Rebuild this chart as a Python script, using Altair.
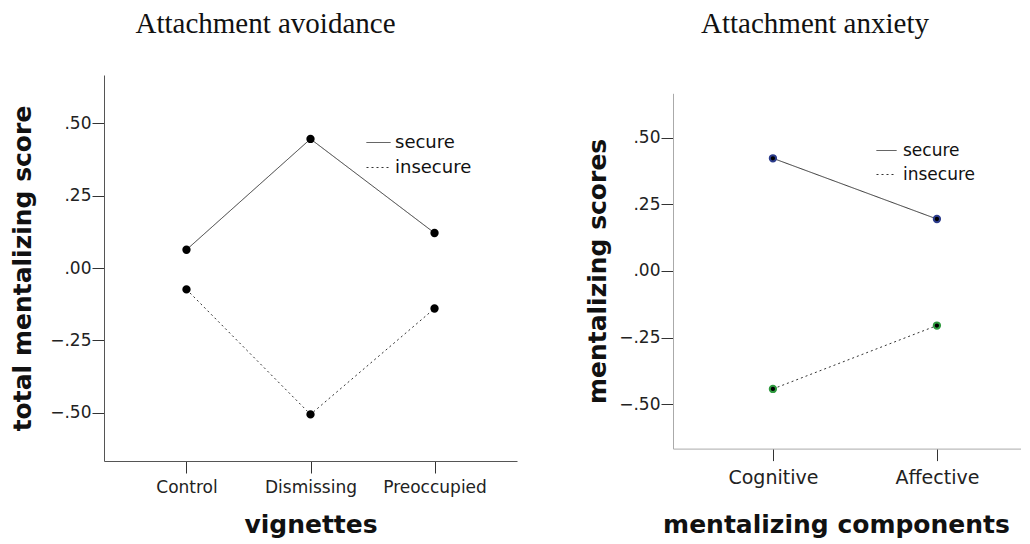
import altair as alt
import pandas as pd

# ---- data ----
groups = ["secure", "insecure"]

vignettes = ["Control", "Dismissing", "Preoccupied"]
avoid_secure = [0.063, 0.446, 0.121]
avoid_insecure = [-0.074, -0.506, -0.140]

components = ["Cognitive", "Affective"]
anx_secure = [0.423, 0.195]
anx_insecure = [-0.443, -0.205]

y_ticks = [-0.5, -0.25, 0.0, 0.25, 0.5]

left_df = pd.DataFrame({
    "cat": vignettes * 2,
    "value": avoid_secure + avoid_insecure,
    "group": [groups[0]] * 3 + [groups[1]] * 3,
})
right_df = pd.DataFrame({
    "cat": components * 2,
    "value": anx_secure + anx_insecure,
    "group": [groups[0]] * 2 + [groups[1]] * 2,
})

SANS = "DejaVu Sans"
SERIF = "Liberation Serif"
label_expr = "replace(format(datum.value, '.2f'), '0.', '.')"
H = 386


def panel(df, cats, title, dx, xtitle, ytitle, width, pad, align, yrange, xoffset,
          domain_color, xlab_size, ylab_size, ytitle_pad, xtitle_pad, xlab_pad, xtitle_x,
          legend_x, legend_y, sym_size, leg_font, leg_off, leg_row, pt_stroke):
    xaxis_kw = dict(title=xtitle, labelAngle=0, labelFont=SANS,
                    labelFontSize=xlab_size, labelColor="#222",
                    tickSize=12, tickColor="#333", labelPadding=xlab_pad,
                    domainColor=domain_color, grid=False, offset=xoffset,
                    titleFont=SANS, titleFontSize=25, titleFontWeight="bold",
                    titleColor="#111", titlePadding=xtitle_pad)
    if xtitle_x is not None:
        xaxis_kw["titleX"] = xtitle_x
    x = alt.X("cat:N", sort=cats,
              scale=alt.Scale(type="point", padding=pad, align=align),
              axis=alt.Axis(**xaxis_kw))
    yscale = alt.Scale(domain=[-0.667, 0.667], nice=False, zero=False)
    if yrange is not None:
        yscale = alt.Scale(domain=[-0.667, 0.667], nice=False, zero=False, range=yrange)
    y = alt.Y("value:Q", scale=yscale,
              axis=alt.Axis(title=ytitle, values=y_ticks, labelExpr=label_expr,
                            labelFont=SANS, labelFontSize=ylab_size, labelColor="#222",
                            tickSize=12, tickColor="#333", labelPadding=1,
                            domainColor=domain_color, grid=False,
                            titleFont=SANS, titleFontSize=25, titleFontWeight="bold",
                            titleColor="#111", titlePadding=ytitle_pad))
    lines = alt.Chart(df).mark_line(color="#333", strokeWidth=1).encode(
        x=x, y=y,
        strokeDash=alt.StrokeDash(
            "group:N",
            scale=alt.Scale(domain=groups, range=[[1, 0], [2, 3]]),
            legend=alt.Legend(title=None, orient="none", legendX=legend_x, legendY=legend_y,
                              symbolType="stroke", symbolSize=sym_size,
                              symbolStrokeWidth=1, symbolStrokeColor="#333",
                              labelFont=SANS, labelFontSize=leg_font, labelColor="#111",
                              labelOffset=leg_off, rowPadding=leg_row, padding=0),
        ),
    )
    points = alt.Chart(df).mark_circle(size=40, opacity=1).encode(
        x=x, y=y,
        color=alt.Color("group:N", scale=alt.Scale(domain=groups, range=["#000", "#000"]), legend=None),
        stroke=alt.Stroke("group:N", scale=alt.Scale(domain=groups, range=pt_stroke), legend=None),
    )
    return alt.layer(lines, points).properties(
        width=width, height=H,
        title=alt.TitleParams(title, font=SERIF, fontSize=29, fontWeight="normal",
                              color="#111", anchor="middle", dx=dx, offset=36),
    ).resolve_scale(color="independent", stroke="independent")


left = panel(left_df, vignettes, "Attachment avoidance", -45,
             "vignettes", "total mentalizing score", 413, 0.665, 0.5, None, 0,
             "#555", 17, 17, 14, 17, 6, None, 262, 55, 576, 18, 4, 3, ["#000", "#000"])
right = panel(right_df, components, "Attachment anxiety", -32,
              "mentalizing components", "mentalizing scores", 348, 0.561, 0.543, [373.6, 18.3], -12.4,
              "#aaa", 19, 17, 8, 25, 8, 163, 203, 65, 400, 17, 6, 5, ["#2c3c8c", "#2f9a3f"])

chart = alt.hconcat(left, right, spacing=68).resolve_scale(
    strokeDash="independent", color="independent", stroke="independent", y="independent", x="independent"
).resolve_legend(strokeDash="independent", color="independent", stroke="independent").properties(
    padding={"left": 2, "top": 2, "right": 0, "bottom": 0}
).configure_view(stroke=None)

chart.save("out.html", embed_options={"renderer": "svg", "actions": False})
